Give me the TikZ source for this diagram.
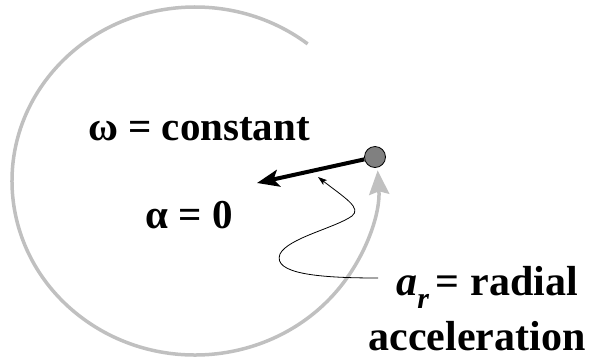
\documentclass[tikz,border=0pt]{standalone}
\usepackage{fontspec}
\setmainfont{Liberation Serif}
\usetikzlibrary{arrows.meta}
\definecolor{arcgray}{HTML}{C0C0C0}
\definecolor{dotgray}{HTML}{808080}
\tikzset{
  bigtext/.style={font=\bfseries\fontsize{41}{44}\selectfont, inner sep=0pt, anchor=base},
  righttext/.style={font=\bfseries\fontsize{42}{46}\selectfont, inner sep=0pt, anchor=base},
  orbit/.style={draw=arcgray, line width=3.5pt, -{Triangle[length=24pt,width=20pt,inset=3pt,fill=arcgray]}},
  accel/.style={line width=4pt, -{Stealth[length=22pt,width=17pt,inset=5pt]}},
  pointer/.style={line width=0.8pt, -{Stealth[length=9pt,width=6pt,inset=2pt]}},
  ball/.style={circle, draw=black, line width=0.8pt, fill=dotgray, minimum size=21pt, inner sep=0pt}
}
\begin{document}
\begin{tikzpicture}[x=1pt,y=-1pt]
\useasboundingbox (0,0) rectangle (600,360);
\coordinate (c) at (195,181);
% orbit arc
\draw[orbit] ([shift={(-52:183 and 174)}]c) arc[start angle=-52, end angle=-363.5, x radius=183, y radius=174];
% ball
\node[ball] (dot) at (375,157) {};
\coordinate (tipa) at (257,183);
\draw[accel] (dot) -- (tipa);
% texts
\node[bigtext] (omega) at (199,140) {ω = constant};
\node[bigtext] (alpha) at (189,228) {α = 0};
\node[righttext] (r1) at (487,295) {{\itshape a}\raisebox{-0.32em}{\fontsize{30}{30}\selectfont\itshape r}\,= radial};
\node[righttext] (r2) at (477,350) {acceleration};
% pointer
\coordinate (pstart) at (378,278);
\coordinate (ptip) at (318,177);
\draw[pointer] (pstart) .. controls (320,278) and (272,274) .. (280,254)
  .. controls (288,238) and (335,228) .. (352,216)
  .. controls (362,208) and (345,198) .. (ptip);
\end{tikzpicture}
\end{document}
